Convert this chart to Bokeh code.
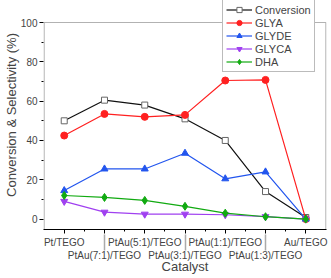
from bokeh.plotting import figure
from bokeh.models import LinearAxis, FixedTicker, Legend, LegendItem, Range1d, BoxAnnotation
from bokeh.embed import file_html
from bokeh.resources import INLINE

catalysts = ["Pt/TEGO", "PtAu(7:1)/TEGO", "PtAu(5:1)/TEGO", "PtAu(3:1)/TEGO",
             "PtAu(1:1)/TEGO", "PtAu(1:3)/TEGO", "Au/TEGO"]
conversion = [50, 60.5, 58, 51, 40, 14, 0.8]
glya = [42.5, 53.5, 52, 53, 70.5, 70.8, 0]
glyde = [14.5, 25.5, 25.5, 33.5, 20.5, 24, 0]
glyca = [9, 3.5, 2.5, 2.5, 2.2, 1.2, 0]
dha = [12, 11, 9.5, 6.5, 3, 1.2, 0]
y_ticks = [0, 20, 40, 60, 80, 100]
y_minor = [10, 30, 50, 70, 90]

FONT = "Liberation Sans"
xs = list(range(len(catalysts)))
X0, X1, Y0, Y1 = -0.5, 6.5, -5.3, 100

p = figure(frame_width=283, frame_height=229, output_backend="svg", toolbar_location=None,
           x_range=Range1d(X0 - 0.015, X1 + 0.015), y_range=Range1d(Y0, 111.2),
           x_axis_location=None, min_border_left=42, min_border_right=5,
           min_border_top=0, min_border_bottom=0)
p.grid.visible = False
p.outline_line_color = None

# frame box (plot area ends at 100 so the legend can overlap its top edge)
p.add_layout(BoxAnnotation(left=X0, right=X1, bottom=Y0, top=Y1,
                           fill_alpha=0, line_color="black", line_width=1.2))

# y axis
ya = p.yaxis[0]
ya.ticker = FixedTicker(ticks=y_ticks, minor_ticks=y_minor)
ya.axis_line_color = None
ya.axis_label = "Conversion & Selectivity (%)"
ya.axis_label_text_font = FONT
ya.axis_label_text_font_style = "normal"
ya.axis_label_text_font_size = "13px"
ya.major_label_text_font = FONT
ya.major_label_text_font_size = "10px"
ya.major_tick_in = 0
ya.major_tick_out = 4
ya.minor_tick_in = 0
ya.minor_tick_out = 2
ya.major_label_standoff = 2
ya.axis_label_standoff = -1

# x axis row 1
ax1 = LinearAxis(ticker=FixedTicker(ticks=xs, minor_ticks=[x + 0.5 for x in xs[:-1]]))
ax1.major_label_overrides = {i: (c if i % 2 == 0 else " ") for i, c in enumerate(catalysts)}
ax1.major_label_text_font = FONT
ax1.major_label_text_font_size = "10px"
ax1.major_tick_in = 0
ax1.major_tick_out = 4
ax1.minor_tick_in = 0
ax1.minor_tick_out = 2
ax1.axis_line_width = 1.2
ax1.major_label_standoff = 3
ax1.axis_label_standoff = 0
p.add_layout(ax1, "below")

# x axis row 2
ax2 = LinearAxis(ticker=FixedTicker(ticks=[1, 3, 5], minor_ticks=[]))
ax2.major_label_overrides = {i: catalysts[i] for i in [1, 3, 5]}
ax2.major_label_text_font = FONT
ax2.major_label_text_font_size = "10px"
ax2.axis_line_color = None
ax2.major_tick_in = 16
ax2.major_tick_out = 0
ax2.major_tick_line_color = "#aaaaaa"
ax2.major_tick_line_width = 1.5
ax2.major_label_standoff = -1
ax2.axis_label = "Catalyst"
ax2.axis_label_text_font = FONT
ax2.axis_label_text_font_style = "normal"
ax2.axis_label_text_font_size = "13px"
ax2.axis_label_standoff = -5
p.add_layout(ax2, "below")

items = []
l = p.line(xs, conversion, color="#111111", line_width=1.2)
m = p.scatter(xs, conversion, marker="square", size=6, fill_color="white",
              line_color="#666666", line_width=1)
items.append(LegendItem(label="Conversion", renderers=[l, m]))

l = p.line(xs, glya, color="#ff2020", line_width=1.2)
m = p.scatter(xs, glya, marker="circle", size=7, color="#ff2020")
items.append(LegendItem(label="GLYA", renderers=[l, m]))

l = p.line(xs, glyde, color="#2255ee", line_width=1.2)
m = p.scatter(xs, glyde, marker="triangle", size=7, color="#2255ee")
items.append(LegendItem(label="GLYDE", renderers=[l, m]))

l = p.line(xs, glyca, color="#a040f0", line_width=1.2)
m = p.scatter(xs, glyca, marker="inverted_triangle", size=7, color="#a040f0")
items.append(LegendItem(label="GLYCA", renderers=[l, m]))

l = p.line(xs, dha, color="#11aa11", line_width=1.2)
m = p.scatter(xs, dha, marker="diamond", size=8, color="#11aa11")
items.append(LegendItem(label="DHA", renderers=[l, m]))

leg = Legend(items=items, location=(179, 157))
leg.label_text_font = FONT
leg.label_text_font_size = "11px"
leg.label_text_line_height = 1.0
leg.label_height = 13
leg.glyph_height = 13
leg.glyph_width = 26
leg.spacing = 0
leg.padding = 3
leg.margin = 0
leg.label_standoff = 3
leg.border_line_color = "#777777"
leg.border_line_width = 1
leg.background_fill_alpha = 1
p.add_layout(leg, "center")

open("out.html", "w").write(file_html(p, INLINE))
